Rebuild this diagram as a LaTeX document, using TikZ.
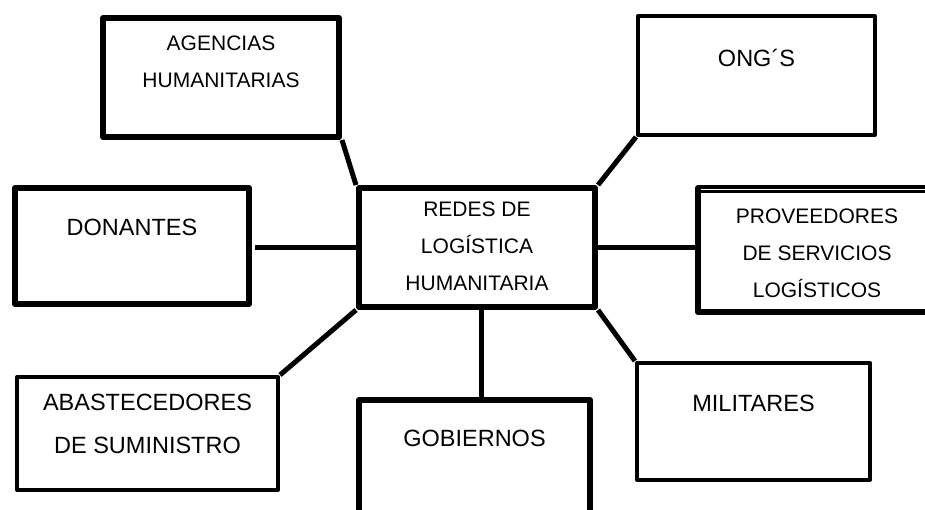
\documentclass[tikz,border=0pt]{standalone}
\usepackage{fontspec}
\setmainfont{Liberation Sans}

\begin{document}
\begin{tikzpicture}[x=1pt,y=-1pt,
	caja/.style={draw, line width=6pt, line join=round, fill=white, inner sep=0pt},
	cajafina/.style={caja, line width=4pt},
	txt/.style={anchor=north, align=center, inner sep=0pt, font=\fontsize{23.5}{43}\selectfont},
	txtchico/.style={txt, font=\fontsize{21}{37}\selectfont},
	enlace/.style={line width=5pt}]
	\useasboundingbox (0,0) rectangle (925,510);
	\clip (0,0) rectangle (925,510);
	% centro
	\node [caja, minimum width=236pt, minimum height=119pt,
		label={[txtchico, name=t-redes, yshift=-17pt]north:REDES DE\\LOGÍSTICA\\HUMANITARIA}] (redes) at (477,247.5) {};
	% actores
	\node [caja, minimum width=236pt, minimum height=119pt,
		label={[txtchico, name=t-agencias, yshift=-21pt]north:AGENCIAS\\HUMANITARIAS}] (agencias) at (221,77.5) {};
	\node [cajafina, minimum width=237pt, minimum height=119pt,
		label={[txt, name=t-ongs, yshift=-35pt]north:ONG´S}] (ongs) at (756.5,75.5) {};
	\node [caja, minimum width=234pt, minimum height=116pt,
		label={[txt, name=t-donantes, yshift=-34pt]north:DONANTES}] (donantes) at (132,246) {};
	\node [caja, minimum width=238pt, minimum height=124pt,
		label={[txtchico, name=t-proveedores, yshift=-24pt]north:PROVEEDORES\\DE SERVICIOS\\LOGÍSTICOS}] (proveedores) at (817,250) {};
	\node [cajafina, minimum width=261pt, minimum height=113pt,
		label={[txt, name=t-abastecedores, yshift=-19pt]north:ABASTECEDORES\\DE SUMINISTRO}] (abastecedores) at (147.5,433.5) {};
	\node [caja, minimum width=231pt, minimum height=122pt,
		label={[txt, name=t-gobiernos, yshift=-33pt]north:GOBIERNOS}] (gobiernos) at (474.5,461) {};
	\node [cajafina, minimum width=233pt, minimum height=117pt,
		label={[txt, name=t-militares, yshift=-34pt]north:MILITARES}] (militares) at (753.5,421.5) {};
	% doble borde superior
	\draw [white, line width=1pt] ([xshift=6pt, yshift=-5pt]proveedores.north west) -- ([yshift=-5pt]proveedores.north east);
	\draw [line width=2pt] ([xshift=6pt, yshift=-7pt]proveedores.north west) -- ([yshift=-7pt]proveedores.north east);
	% enlaces
	\draw [enlace] (agencias.south east) -- (redes.north west);
	\draw [enlace] (ongs.south west) -- (redes.north east);
	\draw [enlace] ([xshift=3pt]redes.west -| donantes.east) -- (redes.west);
	\draw [enlace] (redes.east) -- (redes.east -| proveedores.west);
	\draw [enlace] (abastecedores.north east) -- (redes.south west);
	\draw [enlace] ([xshift=4pt]redes.south) -- ([xshift=4pt]redes.south |- gobiernos.north);
	\draw [enlace] (redes.south east) -- (militares.north west);
\end{tikzpicture}
\end{document}
